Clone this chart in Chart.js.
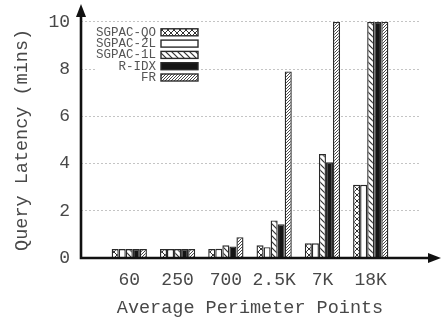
<!DOCTYPE html>
<html>
<head>
<meta charset="utf-8">
<script src="https://cdn.jsdelivr.net/npm/chart.js@4/dist/chart.umd.min.js"></script>
<style>
  html, body { margin: 0; padding: 0; background: #fff; }
  #wrap { width: 443px; height: 322px; position: relative; }
</style>
</head>
<body>
<div id="wrap"><canvas id="c" width="443" height="322"></canvas></div>
<script>
// Query latency (minutes) per average perimeter point count
const categories = ['60', '250', '700', '2.5K', '7K', '18K'];
const seriesNames = ['SGPAC-QO', 'SGPAC-2L', 'SGPAC-1L', 'R-IDX', 'FR'];
const sgpacQO = [0.38, 0.38, 0.38, 0.54, 0.62, 3.1];
const sgpac2L = [0.38, 0.38, 0.39, 0.46, 0.62, 3.1];
const sgpac1L = [0.38, 0.38, 0.54, 1.59, 4.4, 10];
const rIdx    = [0.38, 0.38, 0.49, 1.43, 4.05, 10];
const fr      = [0.38, 0.38, 0.88, 7.9, 10, 10];
const yTicks  = [0, 2, 4, 6, 8, 10];

const MONO = "'Liberation Mono', 'DejaVu Sans Mono', monospace";
const INK = '#2a2a2a';
const TEXT = '#484848';

function tile(size, draw) {
  const cv = document.createElement('canvas');
  cv.width = size; cv.height = size;
  const g = cv.getContext('2d');
  g.fillStyle = '#fff';
  g.fillRect(0, 0, size, size);
  g.strokeStyle = '#333';
  draw(g, size);
  return document.createElement('canvas').getContext('2d').createPattern(cv, 'repeat');
}

// cross-hatch
const patQO = tile(6, (g, s) => {
  g.lineWidth = 1;
  g.beginPath();
  g.moveTo(0, 0); g.lineTo(s, s);
  g.moveTo(s, 0); g.lineTo(0, s);
  g.stroke();
});
// plain white
const pat2L = '#ffffff';
// sparse back-slash
const pat1L = tile(6, (g, s) => {
  g.lineWidth = 1.2;
  g.beginPath();
  g.moveTo(-1, -1); g.lineTo(s + 1, s + 1);
  g.moveTo(-1, s - 1); g.lineTo(1, s + 1);
  g.moveTo(s - 1, -1); g.lineTo(s + 1, 1);
  g.stroke();
});
const patRIDX = '#151515';
// dense forward-slash
const patFR = tile(3, (g, s) => {
  g.lineWidth = 0.9;
  g.beginPath();
  g.moveTo(-1, s + 1); g.lineTo(s + 1, -1);
  g.moveTo(-1, 1); g.lineTo(1, -1);
  g.moveTo(s - 1, s + 1); g.lineTo(s + 1, s - 1);
  g.stroke();
});

const fills = [patQO, pat2L, pat1L, patRIDX, patFR];
const values = [sgpacQO, sgpac2L, sgpac1L, rIdx, fr];

const datasets = seriesNames.map((name, i) => ({
  label: name,
  data: values[i].map((v, k) => ({ x: k + 1, y: v })),
  backgroundColor: fills[i],
  borderColor: INK,
  borderWidth: 1.4,
  borderSkipped: 'bottom',
  categoryPercentage: 0.73,
  barPercentage: 1.0
}));

// Axes with arrowheads and an inset legend
const decor = {
  id: 'decor',
  afterDatasetsDraw(chart) {
    const ctx = chart.ctx;
    const a = chart.chartArea;
    ctx.save();
    ctx.fillStyle = '#111';
    ctx.strokeStyle = '#111';
    ctx.lineWidth = 2.6;
    ctx.beginPath();
    ctx.moveTo(a.left, a.bottom + 1.2);
    ctx.lineTo(a.left, 12);
    ctx.moveTo(a.left - 1.2, a.bottom);
    ctx.lineTo(432, a.bottom);
    ctx.stroke();
    ctx.beginPath();
    ctx.moveTo(a.left, 4);
    ctx.lineTo(a.left - 5, 17);
    ctx.lineTo(a.left + 5, 17);
    ctx.closePath();
    ctx.fill();
    ctx.beginPath();
    ctx.moveTo(441, a.bottom);
    ctx.lineTo(428, a.bottom - 5);
    ctx.lineTo(428, a.bottom + 5);
    ctx.closePath();
    ctx.fill();

    // legend
    ctx.fillStyle = '#fff';
    ctx.fillRect(96, 23, 105, 61);
    ctx.font = '12.5px ' + MONO;
    ctx.textAlign = 'right';
    ctx.textBaseline = 'middle';
    seriesNames.forEach((name, i) => {
      const y = 32.3 + i * 11.3;
      ctx.fillStyle = '#555';
      ctx.fillText(name, 156, y);
      ctx.fillStyle = fills[i];
      ctx.fillRect(161, y - 3.5, 37, 7);
      ctx.strokeStyle = INK;
      ctx.lineWidth = 1.4;
      ctx.strokeRect(161, y - 3.5, 37, 7);
    });
    ctx.restore();
  }
};

new Chart(document.getElementById('c'), {
  type: 'bar',
  data: { datasets },
  plugins: [decor],
  options: {
    responsive: false,
    animation: false,
    devicePixelRatio: 1,
    layout: { padding: { left: 0, right: 24, top: 19.5, bottom: 0 } },
    plugins: { legend: { display: false }, tooltip: { enabled: false } },
    scales: {
      x: {
        type: 'linear',
        min: 0,
        max: categories.length + 1,
        offset: false,
        grid: { display: false, drawTicks: false },
        border: { display: false },
        afterFit: s => { s.height = 64; },
        afterBuildTicks: s => {
          s.ticks = categories.map((c, k) => ({ value: k + 1 }));
        },
        ticks: {
          autoSkip: false,
          maxRotation: 0,
          padding: 11,
          color: TEXT,
          font: { family: MONO, size: 18 },
          callback: v => categories[v - 1] || ''
        },
        title: {
          display: true,
          text: 'Average Perimeter Points',
          color: TEXT,
          font: { family: MONO, size: 18.5 },
          padding: { top: 0, bottom: 3 }
        }
      },
      y: {
        min: 0,
        max: 10,
        afterFit: s => { s.width = 81; },
        afterBuildTicks: s => {
          s.ticks = yTicks.map(v => ({ value: v }));
        },
        grid: {
          drawTicks: false,
          color: ctx => ctx.tick && ctx.tick.value === 0 ? 'rgba(0,0,0,0)' : '#c4c4c4',
          lineWidth: 1
        },
        border: { display: false, dash: [2, 2] },
        ticks: {
          padding: 11,
          color: TEXT,
          font: { family: MONO, size: 18 }
        },
        title: {
          display: true,
          text: 'Query Latency (mins)',
          color: TEXT,
          font: { family: MONO, size: 18.5 },
          padding: { top: 11, bottom: 0 }
        }
      }
    }
  }
});
</script>
</body>
</html>
